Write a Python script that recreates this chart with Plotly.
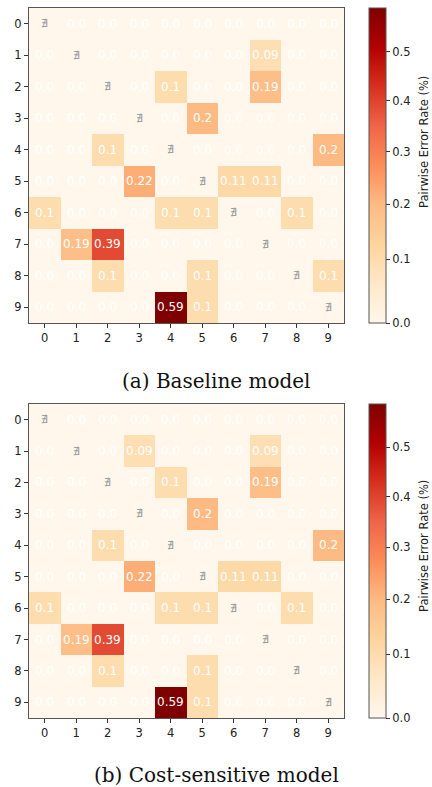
import plotly.graph_objects as go

labels = [str(i) for i in range(10)]

baseline = [
    [0.0, 0.0, 0.0, 0.0, 0.0, 0.0, 0.0, 0.0, 0.0, 0.0],
    [0.0, 0.0, 0.0, 0.0, 0.0, 0.0, 0.0, 0.09, 0.0, 0.0],
    [0.0, 0.0, 0.0, 0.0, 0.1, 0.0, 0.0, 0.19, 0.0, 0.0],
    [0.0, 0.0, 0.0, 0.0, 0.0, 0.2, 0.0, 0.0, 0.0, 0.0],
    [0.0, 0.0, 0.1, 0.0, 0.0, 0.0, 0.0, 0.0, 0.0, 0.2],
    [0.0, 0.0, 0.0, 0.22, 0.0, 0.0, 0.11, 0.11, 0.0, 0.0],
    [0.1, 0.0, 0.0, 0.0, 0.1, 0.1, 0.0, 0.0, 0.1, 0.0],
    [0.0, 0.19, 0.39, 0.0, 0.0, 0.0, 0.0, 0.0, 0.0, 0.0],
    [0.0, 0.0, 0.1, 0.0, 0.0, 0.1, 0.0, 0.0, 0.0, 0.1],
    [0.0, 0.0, 0.0, 0.0, 0.59, 0.1, 0.0, 0.0, 0.0, 0.0],
]

cost_sensitive = [
    [0.0, 0.0, 0.0, 0.0, 0.0, 0.0, 0.0, 0.0, 0.0, 0.0],
    [0.0, 0.0, 0.0, 0.09, 0.0, 0.0, 0.0, 0.09, 0.0, 0.0],
    [0.0, 0.0, 0.0, 0.0, 0.1, 0.0, 0.0, 0.19, 0.0, 0.0],
    [0.0, 0.0, 0.0, 0.0, 0.0, 0.2, 0.0, 0.0, 0.0, 0.0],
    [0.0, 0.0, 0.1, 0.0, 0.0, 0.0, 0.0, 0.0, 0.0, 0.2],
    [0.0, 0.0, 0.0, 0.22, 0.0, 0.0, 0.11, 0.11, 0.0, 0.0],
    [0.1, 0.0, 0.0, 0.0, 0.1, 0.1, 0.0, 0.0, 0.1, 0.0],
    [0.0, 0.19, 0.39, 0.0, 0.0, 0.0, 0.0, 0.0, 0.0, 0.0],
    [0.0, 0.0, 0.1, 0.0, 0.0, 0.1, 0.0, 0.0, 0.0, 0.0],
    [0.0, 0.0, 0.0, 0.0, 0.59, 0.1, 0.0, 0.0, 0.0, 0.0],
]

cbar_ticks = [0.0, 0.1, 0.2, 0.3, 0.4, 0.5]
captions = ["(a) Baseline model", "(b) Cost-sensitive model"]
cbar_title = "Pairwise Error Rate (%)"

VMAX = 0.59
GAMMA = 0.9

W, H = 432, 787


def norm(v):
    return (v / VMAX) ** GAMMA


def px(p):
    return p / W


def py(p):
    return 1 - p / H


fig = go.Figure()

panels = [
    (baseline, 8, 323, "", 381, 142),
    (cost_sensitive, 404, 718, "2", 775, 546),
]

annotations = []
for idx, (mat, top, bot, ax, cap_y, lab_y) in enumerate(panels):
    zc = [[norm(v) for v in row] for row in mat]
    fig.add_trace(go.Heatmap(
        z=zc, x=list(range(10)), y=list(range(10)),
        colorscale="OrRd", zmin=0, zmax=1,
        xaxis="x" + ax, yaxis="y" + ax,
        hoverinfo="skip",
        colorbar=dict(
            x=px(369), xanchor="left", xpad=0, ypad=0,
            y=py((top + bot) / 2), yanchor="middle",
            len=bot - top, lenmode="pixels",
            thickness=17, thicknessmode="pixels",
            outlinewidth=1, outlinecolor="#555555",
            tickvals=[norm(t) for t in cbar_ticks],
            ticktext=[f"{t:.1f}" for t in cbar_ticks],
            ticks="outside", ticklen=4, tickcolor="#333333",
            tickfont=dict(family="DejaVu Sans", size=11.5, color="#222222"),
        ),
    ))
    xr = "x" + ax
    yr = "y" + ax
    for i in range(10):
        for j in range(10):
            if i == j:
                annotations.append(dict(x=j, y=i, xref=xr, yref=yr, text="∄",
                                        showarrow=False,
                                        font=dict(family="DejaVu Sans", size=11, color="#a0a0a0")))
            else:
                annotations.append(dict(x=j, y=i, xref=xr, yref=yr, text=str(mat[i][j]),
                                        showarrow=False,
                                        font=dict(family="DejaVu Sans", size=12, color="white")))
    annotations.append(dict(x=px(216), y=py(cap_y), xref="paper", yref="paper",
                            text=captions[idx], showarrow=False,
                            xanchor="center", yanchor="middle",
                            font=dict(family="DejaVu Serif", size=20, color="#111111")))
    annotations.append(dict(x=px(424), y=py(lab_y), xref="paper", yref="paper",
                            text=cbar_title, showarrow=False, textangle=-90,
                            xanchor="center", yanchor="middle",
                            font=dict(family="DejaVu Sans", size=11.5, color="#222222")))

axis_common = dict(
    range=[-0.5, 9.5], tickmode="array", tickvals=list(range(10)), ticktext=labels,
    showline=True, mirror=True, linecolor="#555555", linewidth=1,
    ticks="outside", ticklen=4, tickcolor="#333333", showgrid=False, zeroline=False,
    tickfont=dict(family="DejaVu Sans", size=11.5, color="#222222"),
)

layout = dict(
    width=W, height=H, margin=dict(l=0, r=0, t=0, b=0),
    paper_bgcolor="white", plot_bgcolor="white",
    annotations=annotations,
)
for idx, (mat, top, bot, ax, cap_y, lab_y) in enumerate(panels):
    xa = dict(axis_common, domain=[px(29), px(344)], anchor="y" + ax)
    ya = dict(axis_common, domain=[py(bot), py(top)], anchor="x" + ax)
    ya["range"] = [9.5, -0.5]
    layout["xaxis" + ax] = xa
    layout["yaxis" + ax] = ya

fig.update_layout(**layout)
fig.write_html(
    "out.html",
    config={"displayModeBar": False},
    post_script="document.body.style.margin='0';document.body.style.overflow='hidden';",
)
